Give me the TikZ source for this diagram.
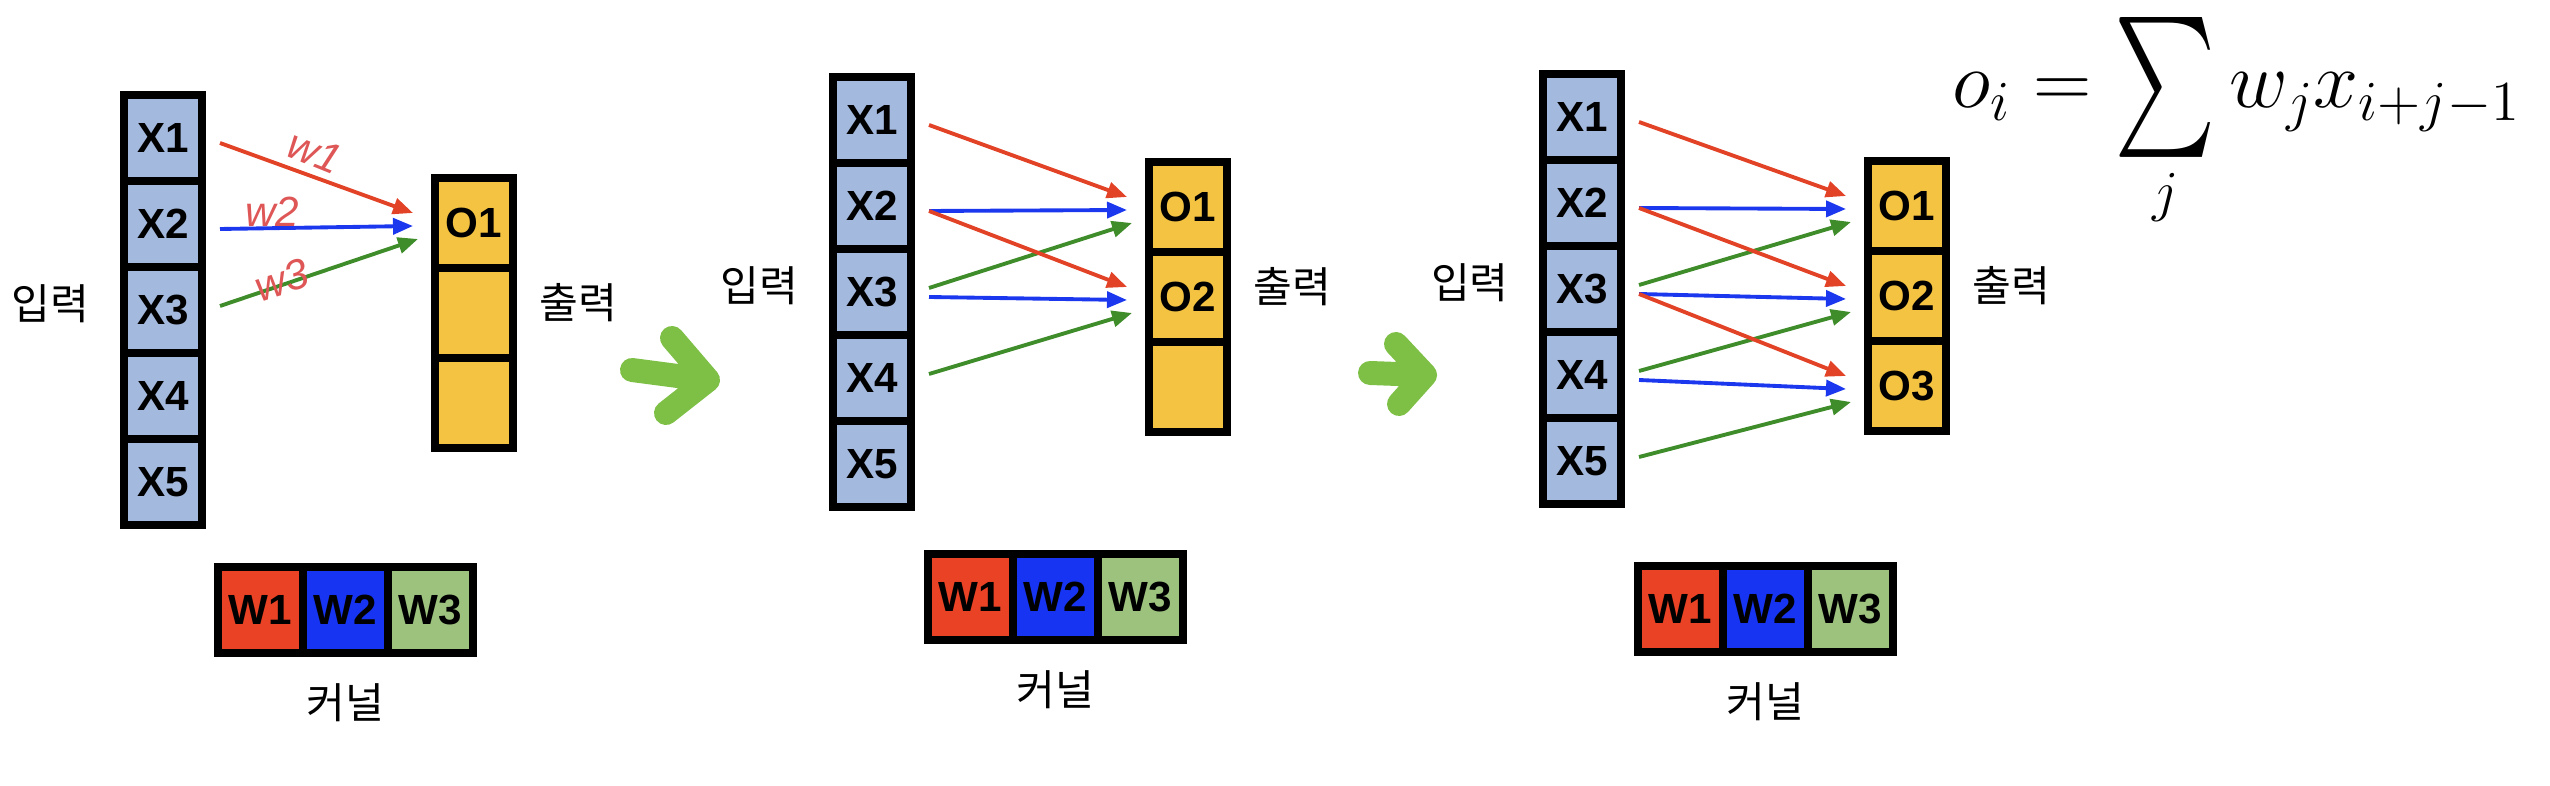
\RequirePackage{fix-cm}
\documentclass[tikz,border=0pt]{standalone}
\usepackage{amsmath}
\usepackage{exscale}
\usepackage{fontspec}
\setmainfont{Liberation Sans}
\newfontfamily\kofont{Noto Sans CJK KR}
\usepackage{tikz}
\usetikzlibrary{positioning,arrows.meta}
\definecolor{inblue}{RGB}{164,185,222}
\definecolor{outyellow}{RGB}{244,195,66}
\definecolor{wred}{RGB}{233,66,36}
\definecolor{wblue}{RGB}{22,52,242}
\definecolor{wgreen}{RGB}{156,194,126}
\definecolor{linered}{RGB}{226,66,38}
\definecolor{lineblue}{RGB}{28,56,238}
\definecolor{linegreen}{RGB}{62,140,42}
\definecolor{stepgreen}{RGB}{126,192,70}
\definecolor{inkred}{RGB}{222,86,86}
\tikzstyle{cell} = [
    draw=black,
    line width=0.08cm,
    outer sep=0pt,
    inner sep=0pt,
    font=\fontsize{12}{14}\selectfont\bfseries
]
\tikzstyle{conn} = [
    line width=1.1pt,
    -{Triangle[length=0.2cm,width=0.16cm]}
]

\begin{document}
\begin{tikzpicture}[
                incell/.style={
                    cell,
                    fill=inblue,
                    minimum width=0.78cm,
                    minimum height=0.86cm
                },
                outcell/.style={
                    cell,
                    fill=outyellow,
                    minimum width=0.78cm,
                    minimum height=0.90cm
                },
                wcell/.style={
                    cell,
                    minimum width=0.85cm,
                    minimum height=0.86cm
                },
                lbl/.style={
                    font=\kofont\fontsize{12}{14}\selectfont
                },
                hw/.style={
                    text=inkred,
                    inner sep=0pt,
                    font=\itshape\fontsize{12}{12}\selectfont
                },
                bigarrow/.style={
                    draw=stepgreen,
                    line width=0.24cm,
                    line cap=round,
                    line join=round
                }
            ]
                \useasboundingbox (0,0) rectangle (25.5,-7.86);
                \foreach \p/\ix/\iy/\ox/\oy/\kx/\ky in {1/1.63/-1.38/4.74/-2.23/2.60/-6.10,
                        2/8.72/-1.20/11.88/-2.07/9.70/-5.97,
                        3/15.82/-1.17/19.07/-2.06/16.80/-6.09}{
                    \node[incell] (x\p-1) at (\ix,\iy) {X1};
                    \foreach \i [count=\j from 2] in {1,...,4}
                        \node[incell, below=0pt of x\p-\i] (x\p-\j) {X\j};
                    \node[outcell] (o\p-1) at (\ox,\oy) {O1};
                    \foreach \i [count=\j from 2] in {1,2}
                        \node[outcell, below=0pt of o\p-\i] (o\p-\j) {\ifnum\j>\p\relax\else O\j\fi};
                    \node[wcell, fill=wred] (w\p-1) at (\kx,\ky) {W1};
                    \node[wcell, fill=wblue, right=0pt of w\p-1] (w\p-2) {W2};
                    \node[wcell, fill=wgreen, right=0pt of w\p-2] (w\p-3) {W3};
                    \node[lbl, left=0.22cm of x\p-3, yshift=0.06cm] (in\p) {입력};
                    \node[lbl, right=0.14cm of o\p-2, yshift=0.1cm] (out\p) {출력};
                    \node[lbl, below=0.18cm of w\p-2] (ker\p) {커널};
                    \foreach \k in {1,...,\p}{
                        \pgfmathtruncatemacro{\nb}{\k+1}
                        \pgfmathtruncatemacro{\nc}{\k+2}
                        \draw[conn, linered] ([xshift=0.18cm,yshift=-0.05cm]x\p-\k.east) -- ([xshift=-0.22cm,yshift=0.10cm]o\p-\k.west);
                        \draw[conn, lineblue] ([xshift=0.18cm,yshift=-0.05cm]x\p-\nb.east) -- ([xshift=-0.22cm,yshift=-0.03cm]o\p-\k.west);
                        \draw[conn, linegreen] ([xshift=0.18cm,yshift=0.04cm]x\p-\nc.east) -- ([xshift=-0.17cm,yshift=-0.16cm]o\p-\k.west);
                    }
                }
                \node[hw, rotate=-22] (hw1) at (3.15,-1.52) {w1};
                \node[hw] (hw2) at (2.72,-2.12) {w2};
                \node[hw, rotate=18] (hw3) at (2.82,-2.80) {w3};
                \draw[bigarrow] (6.32,-3.70) -- (7.08,-3.80) (6.72,-3.38) -- (7.08,-3.80) -- (6.66,-4.13);
                \draw[bigarrow] (13.70,-3.73) -- (14.25,-3.75) (13.96,-3.44) -- (14.25,-3.75) -- (13.99,-4.04);
                \node[anchor=base west, inner sep=0pt] (eq) at (19.52,-1.08) {\fontsize{23}{27}\selectfont $\displaystyle o_i = \mathop{\vcenter{\hbox{\scalebox{1.1}[1.6]{$\textstyle\sum$}}}}\limits_j w_j x_{i+j-1}$};
            \end{tikzpicture}
\end{document}
